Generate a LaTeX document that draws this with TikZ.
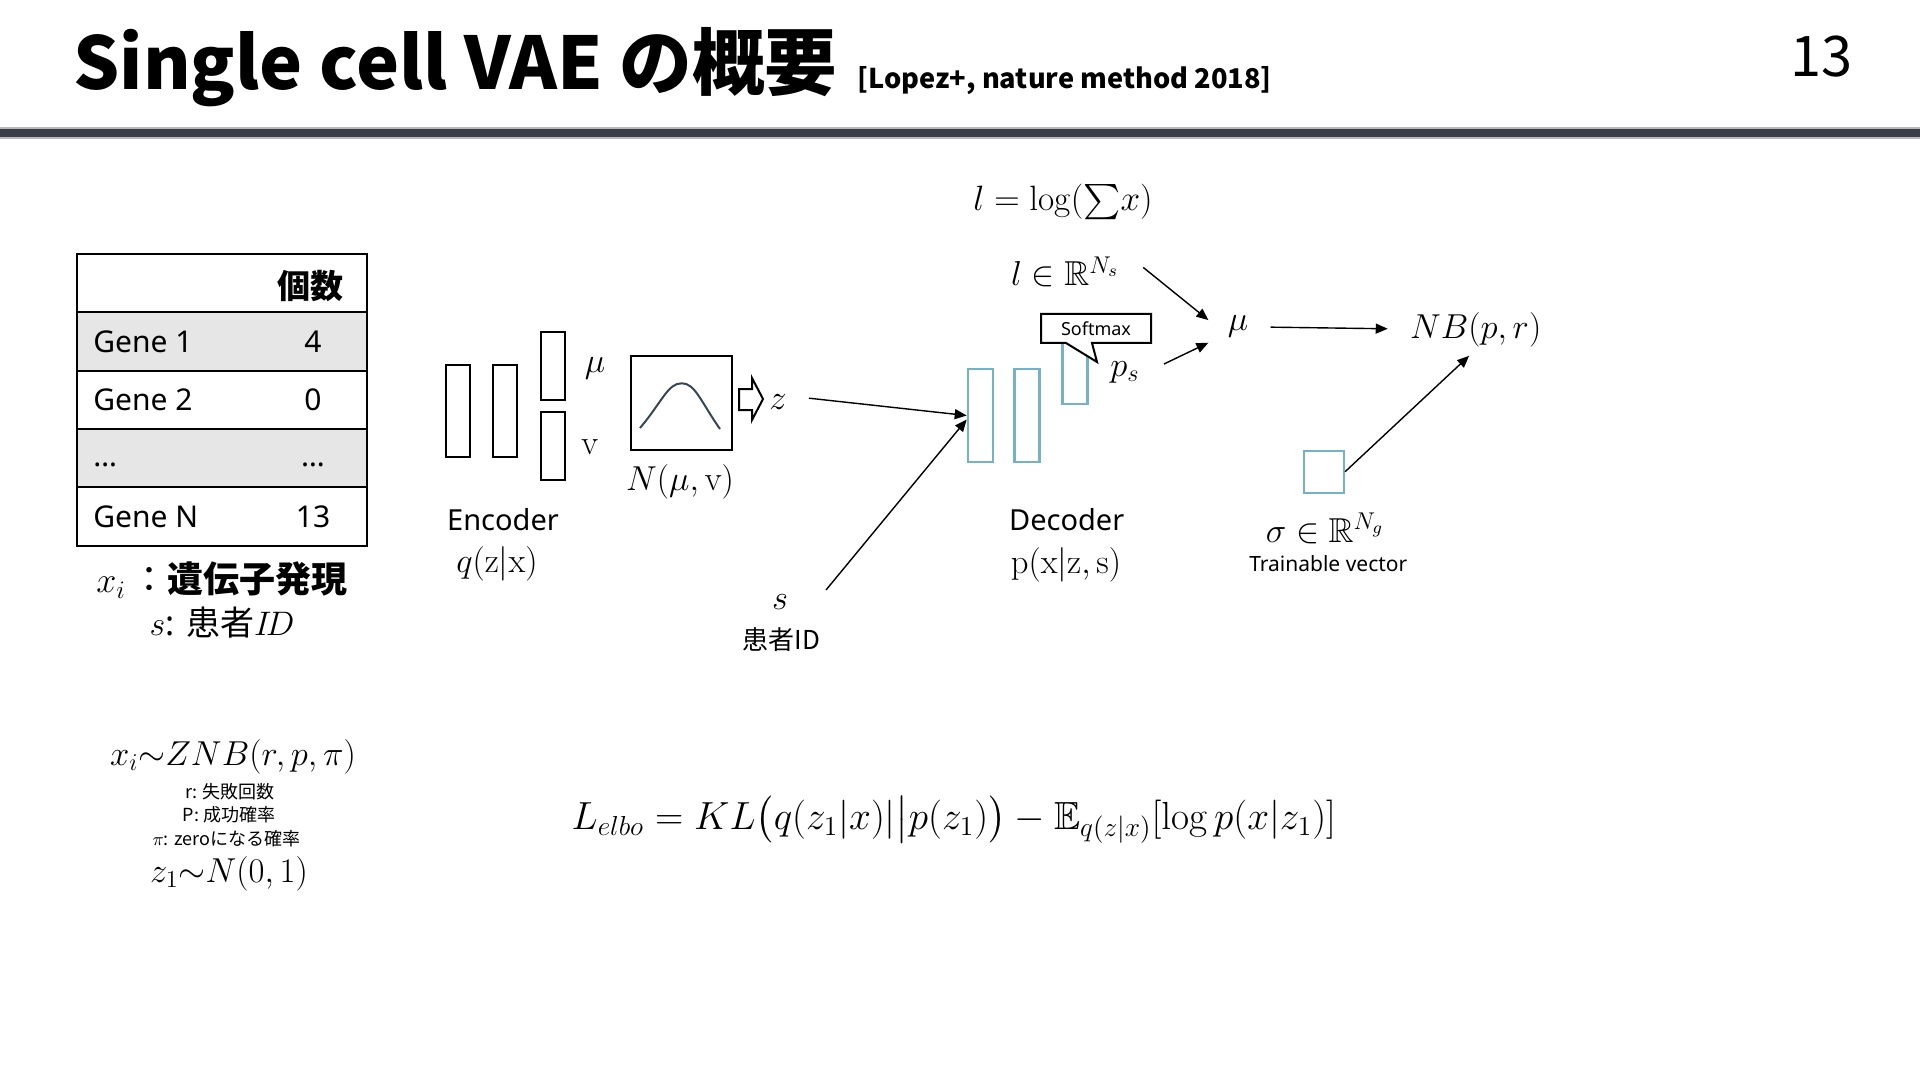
\RequirePackage{fix-cm}
\documentclass[tikz,border=0pt]{standalone}
\usepackage{amsmath,amssymb}
\usepackage[no-math]{fontspec}
\setmainfont{Noto Sans}
\newfontfamily\cjk{Noto Sans CJK JP}
\usetikzlibrary{arrows.meta,positioning}
\definecolor{decblue}{RGB}{115,178,200}
\definecolor{rulegray}{RGB}{58,62,70}
\definecolor{rowgray}{RGB}{230,230,230}
\definecolor{curvegray}{RGB}{55,70,85}
\tikzset{
  encbox/.style={draw=black,line width=1pt,minimum width=12pt,inner sep=0pt},
  decbox/.style={draw=decblue,line width=1.1pt,minimum width=12.5pt,inner sep=0pt},
  arr/.style={line width=.7pt,-{Triangle[length=6pt,width=5pt]}},
  mth/.style={font=\fontsize{17.3}{20}\selectfont,inner sep=1pt},
  bigmth/.style={font=\fontsize{19.6}{22}\selectfont,inner sep=1pt},
  lab/.style={font=\fontsize{14.5}{17}\selectfont,inner sep=1pt},
  cell/.style={font=\fontsize{15}{18}\selectfont,inner sep=0pt},
  note/.style={font=\cjk\fontsize{9}{11}\selectfont,inner sep=0pt}
}
\begin{document}
\begin{tikzpicture}[x=0.5pt,y=-0.5pt]
  \useasboundingbox (0,0) rectangle (1920,1080);
  \node[anchor=base west,inner sep=0pt,font=\cjk\bfseries\fontsize{36.3}{40}\selectfont] (title) at (73,90) {Single cell VAE の概要};
  \node[anchor=base west,inner sep=0pt,font=\cjk\bfseries\fontsize{13.6}{16}\selectfont] (cite) at (857,89) {[Lopez+, nature method 2018]};
  \node[anchor=base east,inner sep=0pt,font=\cjk\fontsize{28}{30}\selectfont] (pagenum) at (1853,77) {13};
  \fill[gray!55] (0,127) rectangle (1920,139);
  \fill[rulegray] (0,129.5) rectangle (1920,137);

  \foreach \y/\c in {254/white,312.3/rowgray,370.6/white,428.9/rowgray,487.2/white}
    \filldraw[fill=\c,draw=black,line width=1pt] (77,\y) rectangle (367,\y+58.3);
  \node[font=\cjk\bfseries\fontsize{16.5}{18}\selectfont,inner sep=0pt] (head) at (310,286) {個数};
  \node[cell,anchor=west] (g1) at (93,341.5) {Gene 1};
  \node[cell] (n1) at (313,341.5) {4};
  \node[cell,anchor=west] (g2) at (93,399.8) {Gene 2};
  \node[cell] (n2) at (313,399.8) {0};
  \node[cell,anchor=west] (gd) at (93,465) {…};
  \node[cell] (nd) at (313,465) {…};
  \node[cell,anchor=west] (gn) at (93,516.3) {Gene N};
  \node[cell] (nn) at (313,516.3) {13};
  \node[font=\fontsize{18}{20}\selectfont,inner sep=0pt] (xdesc) at (222,580) {$x_i$\,{\cjk ：\bfseries 遺伝子発現}};
  \node[font=\fontsize{17}{19}\selectfont,inner sep=0pt] (sdesc) at (222,623) {$s$: {\cjk 患者}$I\!D$};

  \node[encbox,minimum height=45.8pt] (enc1) at (458.3,411) {};
  \node[encbox,minimum height=45.8pt] (enc2) at (505,411) {};
  \node[encbox,minimum height=34pt] (mubox) at (553,366) {};
  \node[encbox,minimum height=34pt] (vbox) at (553,445.5) {};
  \node[mth] (mulab) at (595,368) {$\mu$};
  \node[mth] (vlab) at (590,447) {$\mathrm{v}$};
  \node[encbox,minimum width=50.5pt,minimum height=47.2pt] (gauss) at (681.2,402.9) {};
  \draw[curvegray,line width=1pt] (640,428) .. controls (662,402) and (668,383) .. (681.7,383.3) .. controls (695,383) and (701,402) .. (720,429);
  \node[mth] (nlab) at (680,481.7) {$N(\mu,\mathrm{v})$};
  \draw[line width=1pt,fill=white] (739,389) -- (752,389) -- (752,378) -- (763,399) -- (752,420) -- (752,410) -- (739,410) -- cycle;
  \node[mth] (z) at (778,402) {$z$};
  \node[lab] (enclab) at (503,520) {Encoder};
  \node[mth] (qlab) at (497,564) {$q(\mathrm{z}|\mathrm{x})$};

  \node[decbox,minimum height=46.2pt] (dec1) at (980.3,415.5) {};
  \node[decbox,minimum height=46.2pt] (dec2) at (1027,415.5) {};
  \node[decbox,minimum height=34pt] (dec3) at (1075,370) {};
  \filldraw[fill=white,line width=1pt] (1041,314) -- (1151,314) -- (1151,343) -- (1092,343) -- (1097,362) -- (1066,343) -- (1041,343) -- cycle;
  \node[font=\fontsize{9}{10}\selectfont,inner sep=0pt] (softmax) at (1096,328.5) {Softmax};
  \node[mth] (ps) at (1125,372) {$p_s$};
  \node[lab] (declab) at (1066.7,520) {Decoder};
  \node[mth] (plab) at (1066,565) {$\mathrm{p}(\mathrm{x}|\mathrm{z},\mathrm{s})$};
  \node[mth] (s) at (780,602) {$s$};
  \node[font=\cjk\fontsize{13}{15}\selectfont,inner sep=0pt] (sid) at (781.7,640) {患者ID};
  \coordinate (stail) at (826,590);

  \node[font=\fontsize{17.6}{20}\selectfont,inner sep=1pt] (lsum) at (1063,202) {$l=\log({\sum}x)$};
  \node[mth] (lvec) at (1065,272) {$l\in\mathbb{R}^{N_s}$};
  \node[mth] (mu) at (1238,326.7) {$\mu$};
  \node[mth] (nb) at (1475.7,330) {$NB(p,r)$};
  \node[decbox,minimum width=20pt,minimum height=21pt] (sigbox) at (1324,471.7) {};
  \node[mth] (siglab) at (1325,528.3) {$\sigma\in\mathbb{R}^{N_g}$};
  \node[font=\fontsize{10.5}{12}\selectfont,inner sep=0pt] (train) at (1328.3,563.3) {Trainable vector};

  \draw[arr,shorten <=10pt] ([yshift=3pt]z.east) -- (dec1.west);
  \draw[arr] (stail) -- ([yshift=-2pt]dec1.west);
  \draw[arr] ([xshift=11pt,yshift=2.3pt]lvec.east) -- ([xshift=-8.5pt,yshift=3.3pt]mu.west);
  \draw[arr] ([xshift=11pt,yshift=4pt]ps.east) -- ([xshift=-8.5pt,yshift=-8pt]mu.west);
  \draw[arr,shorten <=10pt,shorten >=10pt] (mu) -- (nb);
  \draw[arr,shorten >=4.5pt] (sigbox.east) -- (nb.south);

  \node[mth] (zinb) at (233,756.7) {$x_i{\sim}ZNB(r,p,\pi)$};
  \node[note] (nr) at (230,791.7) {r: 失敗回数};
  \node[note] (np) at (229,815) {P: 成功確率};
  \node[note] (npi) at (226.5,838.3) {$\pi$: zeroになる確率};
  \node[mth] (zprior) at (229,874) {$z_1{\sim}N(0,1)$};
  \node[bigmth] (elbo) at (953.8,820) {$L_{elbo}=KL\bigl(q(z_1|x)|\big|p(z_1)\bigr)-\mathbb{E}_{q(z|x)}[\log p(x|z_1)]$};
\end{tikzpicture}
\end{document}
